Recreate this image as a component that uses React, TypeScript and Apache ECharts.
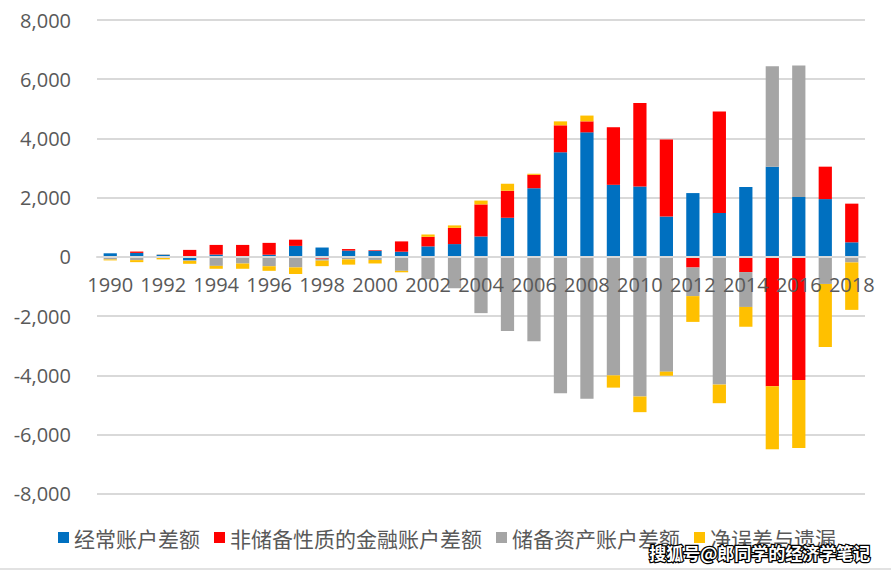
import React, { useEffect, useRef } from "react";
import * as echarts from "echarts";

const years = [
  "1990", "1991", "1992", "1993", "1994", "1995", "1996", "1997", "1998", "1999",
  "2000", "2001", "2002", "2003", "2004", "2005", "2006", "2007", "2008", "2009",
  "2010", "2011", "2012", "2013", "2014", "2015", "2016", "2017", "2018",
];
const seriesNames = ["经常账户差额", "非储备性质的金融账户差额", "储备资产账户差额", "净误差与遗漏"];
const currentAccount = [120, 133, 64, -119, 77, 16, 72, 370, 315, 211, 204, 174, 354, 431, 689, 1324, 2318, 3532, 4206, 2433, 2378, 1361, 2154, 1482, 2360, 3042, 2022, 1951, 491];
const financialAccount = [-28, 46, -3, 235, 326, 387, 400, 210, -63, 52, 20, 348, 323, 549, 1082, 912, 453, 911, 371, 1945, 2822, 2600, -360, 3430, -514, -4370, -4161, 1095, 1306];
const reserveAssets = [-61, -111, 23, -18, -305, -225, -317, -357, -64, -85, -105, -473, -755, -1061, -1901, -2506, -2848, -4607, -4795, -4003, -4717, -3878, -966, -4314, -1178, 3400, 4437, -915, -189];
const errorsOmissions = [-31, -68, -83, -98, -98, -178, -155, -223, -187, -178, -119, -49, 78, 82, 130, 229, 36, 133, 195, -414, -529, -138, -871, -629, -669, -2130, -2295, -2130, -1602];
const colors = ["#0070C0", "#FF0000", "#A5A5A5", "#FFC000"];
const watermark = "搜狐号@郎同学的经济学笔记";

const GRID_TOP = 20;
const GRID_HEIGHT = 473.7;
const Y_MIN = -8000;
const Y_MAX = 8000;

export default function App() {
  const ref = useRef<HTMLDivElement>(null);
  useEffect(() => {
    const chart = echarts.init(ref.current!, null, { renderer: "svg" });
    const values = [currentAccount, financialAccount, reserveAssets, errorsOmissions];
    // distance from the grid's bottom edge up to the zero line
    const zeroOffset = (GRID_HEIGHT * (0 - Y_MIN)) / (Y_MAX - Y_MIN);
    chart.setOption({
      animation: false,
      backgroundColor: "#fff",
      grid: { left: 97, top: GRID_TOP, width: 768, height: GRID_HEIGHT },
      legend: {
        data: seriesNames,
        left: 58,
        top: 527,
        padding: 0,
        itemWidth: 11,
        itemHeight: 11,
        itemGap: 14,
        icon: "rect",
        textStyle: { fontSize: 21, color: "#595959", fontFamily: "Noto Sans CJK SC" },
      },
      xAxis: {
        type: "category",
        data: years,
        z: 5,
        position: "bottom",
        offset: -zeroOffset,
        axisLine: { onZero: false, lineStyle: { color: "#d9d9d9", width: 2 } },
        axisTick: { show: false },
        axisLabel: { interval: 1, margin: 18, fontSize: 20, color: "#595959", fontFamily: "Open Sans" },
      },
      yAxis: {
        type: "value",
        min: Y_MIN,
        max: Y_MAX,
        interval: 2000,
        axisLine: { show: false },
        axisTick: { show: false },
        splitLine: { lineStyle: { color: "#d9d9d9", width: 2 } },
        axisLabel: {
          margin: 26,
          fontSize: 20,
          color: "#595959",
          fontFamily: "Open Sans",
          formatter: (v: number) => v.toLocaleString("en-US"),
        },
      },
      series: seriesNames.map((name, i) => ({
        name,
        type: "bar",
        stack: "total",
        barWidth: "50%",
        itemStyle: { color: colors[i] },
        data: values[i],
      })),
      graphic: [
        {
          type: "line",
          shape: { x1: 0, y1: 569, x2: 891, y2: 569 },
          style: { stroke: "#d9d9d9", lineWidth: 1.5 },
        },
        {
          type: "text",
          left: 648,
          top: 543,
          z: 100,
          style: {
            text: watermark,
            fill: "#fff",
            stroke: "#000",
            lineWidth: 2.5,
            font: 'bold 17px "Noto Sans CJK SC"',
          },
        },
      ],
    });
    return () => chart.dispose();
  }, []);
  return (
    <div
      ref={ref}
      style={{ position: "fixed", left: 0, top: 0, width: 891, height: 570, background: "#fff" }}
    />
  );
}
